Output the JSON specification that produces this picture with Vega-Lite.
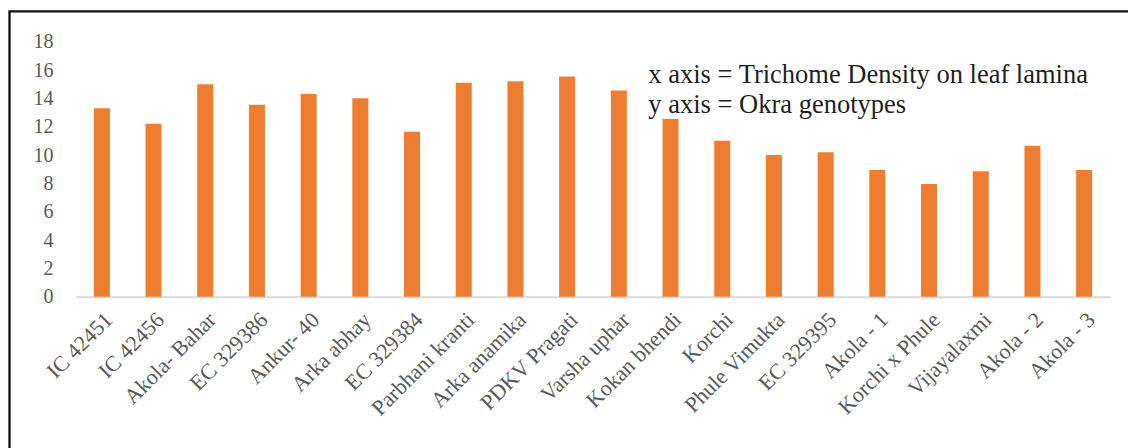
{
  "$schema": "https://vega.github.io/schema/vega-lite/v6.json",
  "autosize": {"type": "none"},
  "width": 1123.5,
  "height": 441.7,
  "padding": {"left": 9.5, "top": 11.3, "right": -5, "bottom": -5},
  "background": "white",
  "view": {
    "stroke": "#111111",
    "strokeWidth": 2.3
  },
  "config": {
    "font": "Liberation Serif"
  },
  "datasets": {
    "trichomes": [
      {"genotype": "IC 42451", "density": 13.3},
      {"genotype": "IC 42456", "density": 12.2},
      {"genotype": "Akola- Bahar", "density": 15.0},
      {"genotype": "EC 329386", "density": 13.55},
      {"genotype": "Ankur- 40", "density": 14.3},
      {"genotype": "Arka abhay", "density": 14.0},
      {"genotype": "EC 329384", "density": 11.65},
      {"genotype": "Parbhani kranti", "density": 15.1},
      {"genotype": "Arka anamika", "density": 15.2},
      {"genotype": "PDKV Pragati", "density": 15.55},
      {"genotype": "Varsha uphar", "density": 14.55},
      {"genotype": "Kokan bhendi", "density": 12.55},
      {"genotype": "Korchi", "density": 11.0},
      {"genotype": "Phule Vimukta", "density": 10.0},
      {"genotype": "EC 329395", "density": 10.2},
      {"genotype": "Akola - 1", "density": 8.95},
      {"genotype": "Korchi x Phule", "density": 7.95},
      {"genotype": "Vijayalaxmi", "density": 8.85},
      {"genotype": "Akola - 2", "density": 10.65},
      {"genotype": "Akola - 3", "density": 8.95}
    ],
    "notes": [
      {"genotype": "Varsha uphar", "note": "x axis = Trichome Density on leaf lamina", "line": 1},
      {"genotype": "Varsha uphar", "note": "y axis = Okra genotypes", "line": 2}
    ]
  },
  "layer": [
    {
      "data": {"name": "trichomes"},
      "mark": {"type": "bar", "color": "#ED7D31"},
      "encoding": {
        "x": {
          "field": "genotype",
          "type": "nominal",
          "sort": null,
          "scale": {"range": [66.5, 1100.5], "paddingInner": 0.69, "paddingOuter": 0.345},
          "axis": {
            "title": null,
            "offset": -156.3,
            "labelAngle": -45,
            "labelFont": "Liberation Serif",
            "labelFontSize": 22,
            "labelColor": "#595959",
            "labelPadding": 12,
            "ticks": false,
            "tickSize": 0,
            "domainColor": "#d9d9d9",
            "domainWidth": 2,
            "grid": false
          }
        },
        "y": {
          "field": "density",
          "type": "quantitative",
          "scale": {"domain": [0, 18], "range": [285.4, 30.4], "nice": false},
          "axis": {
            "title": null,
            "offset": -66.5,
            "values": [0, 2, 4, 6, 8, 10, 12, 14, 16, 18],
            "labelFont": "Liberation Serif",
            "labelFontSize": 20,
            "labelColor": "#595959",
            "labelPadding": 23,
            "ticks": false,
            "tickSize": 0,
            "domain": false,
            "grid": false
          }
        }
      }
    },
    {
      "data": {"name": "notes"},
      "mark": {
        "type": "text",
        "align": "left",
        "baseline": "alphabetic",
        "dx": 29.5,
        "font": "Liberation Serif",
        "fontSize": 26.5,
        "color": "#1f1f1f"
      },
      "encoding": {
        "x": {"field": "genotype", "type": "nominal", "sort": null},
        "y": {
          "field": "line",
          "type": "quantitative",
          "scale": {"domain": [1, 2], "range": [72, 102], "zero": false, "nice": false},
          "axis": null
        },
        "text": {"field": "note"}
      }
    }
  ],
  "resolve": {"scale": {"y": "independent"}, "axis": {"y": "independent"}}
}
